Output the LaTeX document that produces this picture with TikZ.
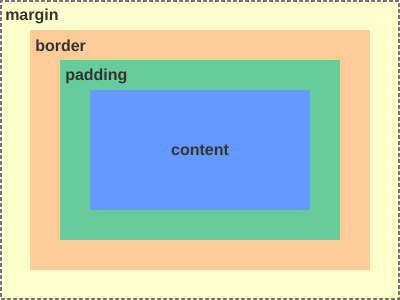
\documentclass[tikz,border=0pt]{standalone}
\usepackage{fontspec}
\setmainfont{Liberation Sans}
\usetikzlibrary{positioning}
\definecolor{marginc}{HTML}{FFFFCC}
\definecolor{borderc}{HTML}{FFCC99}
\definecolor{paddingc}{HTML}{66CC99}
\definecolor{contentc}{HTML}{6699FF}
\definecolor{labelc}{HTML}{333333}
\definecolor{edgec}{HTML}{777777}
\tikzset{
  area/.style={rectangle, inner sep=0pt, outer sep=0pt},
  lbl/.style={anchor=west, inner sep=0pt, font=\fontsize{12}{14}\selectfont\bfseries, text=labelc}
}

\begin{document}
\begin{tikzpicture}[x=0.75pt, y=-0.75pt]

  % --- page frame ---
  \useasboundingbox (0,0) rectangle (400,300);

  % --- nested boxes ---
  \node[area, fill=marginc, draw=edgec, line width=1.5pt,
        dash pattern=on 3pt off 1.5pt,
        minimum width=298.5pt, minimum height=223.5pt] (margin) at (200,150) {};
  \node[area, fill=borderc, minimum width=255pt, minimum height=180pt] (border) at (200,150) {};
  \node[area, fill=paddingc, minimum width=210pt, minimum height=135pt] (padding) at (200,150) {};
  \node[area, fill=contentc, minimum width=165pt, minimum height=90pt] (content) at (200,150) {};

  % --- labels ---
  \node[lbl] (marginlbl) at (5,16) {margin};
  \node[lbl] (borderlbl) at (35,46) {border};
  \node[lbl] (paddinglbl) at (65,76) {padding};
  \node[lbl, anchor=center] (contentlbl) at (content.center) {content};

\end{tikzpicture}
\end{document}
